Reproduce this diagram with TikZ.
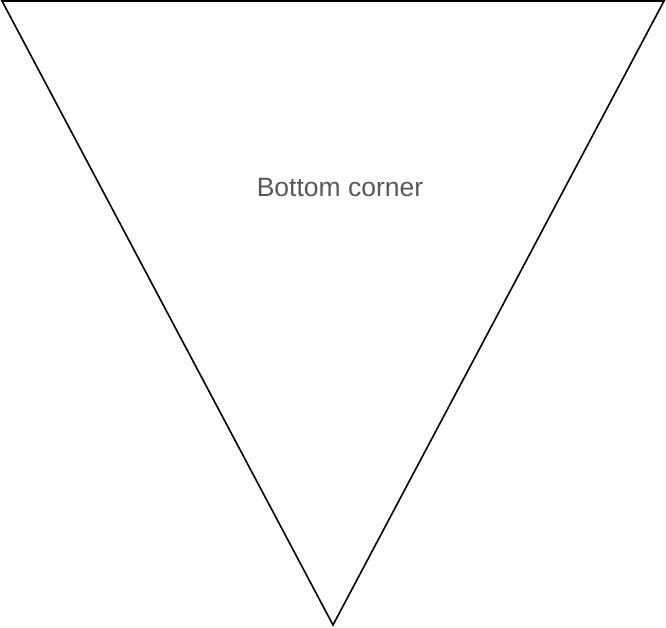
\documentclass[tikz,border=0pt]{standalone}
\usepackage{fontspec}
\setmainfont{Liberation Sans}
\definecolor{labelgray}{HTML}{595959}
\begin{document}
\begin{tikzpicture}[x=1pt,y=1pt,
  tri/.style={draw=black,line width=1.6pt,line join=miter},
  lbl/.style={text=labelgray,font=\fontsize{26.5}{30}\selectfont,inner sep=0pt,anchor=base}]
\useasboundingbox (0,0) rectangle (666,628);
\coordinate (tl) at (2,627);
\coordinate (tr) at (664,627);
\coordinate (bt) at (333,3);
\draw[tri] (tl) -- (tr) -- (bt) -- cycle;
\node[lbl] (label) at (340,431) {Bottom corner};
\end{tikzpicture}
\end{document}
